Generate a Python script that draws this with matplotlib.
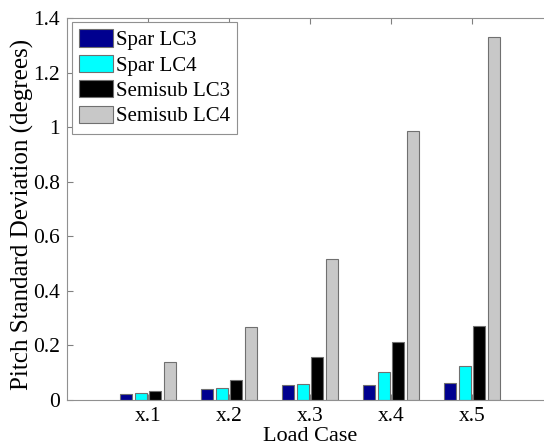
import matplotlib
matplotlib.use("Agg")
import matplotlib.pyplot as plt
import numpy as np

plt.rcParams['font.family'] = ['Liberation Serif', 'DejaVu Serif']

categories = ['x.1', 'x.2', 'x.3', 'x.4', 'x.5']
series_names = ['Spar LC3', 'Spar LC4', 'Semisub LC3', 'Semisub LC4']
spar_lc3 = [0.021, 0.040, 0.054, 0.056, 0.061]
spar_lc4 = [0.024, 0.043, 0.060, 0.101, 0.125]
semisub_lc3 = [0.033, 0.073, 0.157, 0.213, 0.270]
semisub_lc4 = [0.140, 0.266, 0.515, 0.985, 1.330]
yticks = [0, 0.2, 0.4, 0.6, 0.8, 1, 1.2, 1.4]
ytick_labels = ['0', '0.2', '0.4', '0.6', '0.8', '1', '1.2', '1.4']

colors = ['#00008F', '#00FFFF', '#000000', '#C8C8C8']
series = [spar_lc3, spar_lc4, semisub_lc3, semisub_lc4]

fig = plt.figure(figsize=(5.44, 4.47), dpi=100)
W, H = 544, 447
left, right, bottom, top = 67, 553, 400, 18
ax = fig.add_axes([left / W, 1 - bottom / H, (right - left) / W, (bottom - top) / H])

x = np.arange(1, len(categories) + 1)
n = len(series)
groupwidth = min(0.8, n / (n + 1.5))
slot = groupwidth / n
bw = slot * 0.8
for i, (vals, c, name) in enumerate(zip(series, colors, series_names)):
    offs = -groupwidth / 2 + slot * (i + 0.5)
    ax.bar(x + offs, vals, width=bw, color=c, edgecolor='#707070', linewidth=0.8, label=name)

ax.set_xlim(0, 6)
ax.set_ylim(0, 1.4)
ax.set_xticks(x)
ax.set_xticklabels(categories)
ax.set_yticks(yticks)
ax.set_yticklabels(ytick_labels)
ax.tick_params(direction='in', top=True, right=True, labelsize=15.5, color='#808080',
               length=4, pad=5)
for s in ax.spines.values():
    s.set_color('#909090')
    s.set_linewidth(0.8)

ax.set_xlabel('Load Case', fontsize=16, labelpad=1)
ax.set_ylabel('Pitch Standard Deviation (degrees)', fontsize=18, va='center')
ax.yaxis.set_label_coords((22 - left) / (right - left), 0.485)

leg = ax.legend(loc='upper left', bbox_to_anchor=(72 / W, 1 - 22 / H), bbox_transform=fig.transFigure,
                borderaxespad=0, fontsize=15, handlelength=1.6, handleheight=0.9,
                labelspacing=0.22, handletextpad=0.15, borderpad=0.35, fancybox=False,
                framealpha=1)
leg.get_frame().set_edgecolor('#909090')
leg.get_frame().set_linewidth(0.8)

fig.savefig('out.png', dpi=100)
